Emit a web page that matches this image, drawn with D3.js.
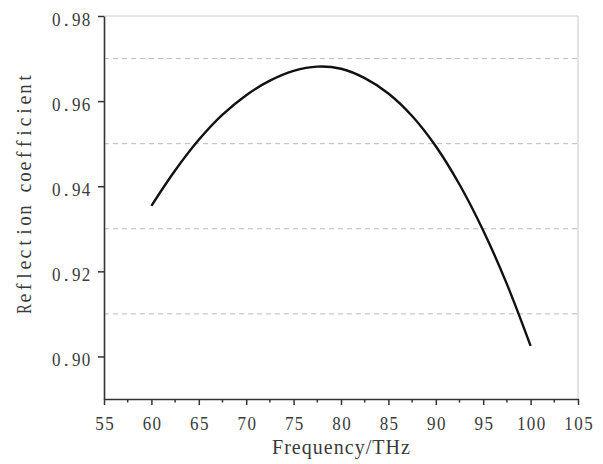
<!DOCTYPE html>
<html><head><meta charset="utf-8">
<script src="https://cdn.jsdelivr.net/npm/d3@7"></script>
<style>body{margin:0;background:#fff}</style>
</head><body>
<script>
const freq = [60, 62.5, 65, 67.5, 70, 72.5, 75, 77.5, 80, 82.5, 85, 87.5, 90, 92.5, 95, 97.5, 100];
const refl = [0.9354, 0.9437, 0.9509, 0.9568, 0.9614, 0.9648, 0.9671, 0.9681, 0.9676, 0.9654, 0.9618, 0.9565, 0.9494, 0.9404, 0.9296, 0.9170, 0.9025];
const xTicks = [55, 60, 65, 70, 75, 80, 85, 90, 95, 100, 105];
const xMinor = [57.5, 62.5, 67.5, 72.5, 77.5, 82.5, 87.5, 92.5, 97.5, 102.5];
const yTicks = [0.90, 0.92, 0.94, 0.96, 0.98];
const yGrid = [0.91, 0.93, 0.95, 0.97];
const xTitle = "Frequency/THz";
const yTitle = "Reflection coefficient";

const W = 603, H = 464;
const m = {l: 104, r: 25, t: 16, b: 65};
const svg = d3.select("body").append("svg").attr("width", W).attr("height", H);
const x = d3.scaleLinear().domain([55, 105]).range([m.l, W - m.r]);
const y = d3.scaleLinear().domain([0.89, 0.98]).range([H - m.b, m.t]);
const font = "'Liberation Serif', 'DejaVu Serif', serif";
const txtCol = "#3a3a3a";

// fixed-cell text (half-width CJK-style font look); wide glyphs condensed to fit their cell
function monoText(sel, str, cx, cy, cell, size, align) {
  const n = str.length, wTot = n * cell;
  const start = align === "end" ? cx - wTot : align === "start" ? cx : cx - wTot / 2;
  const t = sel.append("text").attr("font-family", font).attr("font-size", size)
    .attr("fill", txtCol).attr("text-anchor", "middle").attr("dominant-baseline", "central");
  t.selectAll("tspan").data(str.split("")).join("tspan")
    .attr("x", (c, i) => start + (i + 0.5) * cell).attr("y", cy)
    .text(c => c === " " ? "\u00a0" : c)
    .each(function() {
      const w = this.getComputedTextLength();
      const maxW = cell * 0.86;
      if (w > maxW) d3.select(this).attr("textLength", maxW).attr("lengthAdjust", "spacingAndGlyphs");
    });
  return t;
}

// grid
svg.append("g").selectAll("line").data(yGrid).join("line")
  .attr("x1", x(55)).attr("x2", x(105))
  .attr("y1", d => y(d)).attr("y2", d => y(d))
  .attr("stroke", "#bbb").attr("stroke-width", 1).attr("stroke-dasharray", "5,4");

// frame top/right
svg.append("path")
  .attr("d", `M${x(55)},${y(0.98)}H${x(105)}V${y(0.89)}`)
  .attr("fill", "none").attr("stroke", "#c8c8c8").attr("stroke-width", 1);

// axes
const xAxis = svg.append("g").attr("transform", `translate(0,${y(0.89)})`)
  .call(d3.axisBottom(x).tickValues(xTicks).tickSize(6).tickSizeOuter(0).tickFormat(d3.format("d")));
xAxis.append("g").selectAll("line").data(xMinor).join("line")
  .attr("x1", d => x(d)).attr("x2", d => x(d)).attr("y1", 0).attr("y2", 3.5)
  .attr("stroke", "#333").attr("stroke-width", 1.5);
const yAxis = svg.append("g").attr("transform", `translate(${x(55)},0)`)
  .call(d3.axisLeft(y).tickValues(yTicks).tickSize(6).tickSizeOuter(0).tickFormat(d3.format(".2f")));
[xAxis, yAxis].forEach(g => {
  g.select(".domain").attr("stroke", "#333").attr("stroke-width", 1.6);
  g.selectAll(".tick line").attr("stroke", "#333").attr("stroke-width", 1.5);
});
xAxis.selectAll(".tick").each(function(d) {
  const g = d3.select(this); const s = g.select("text").text(); g.select("text").remove();
  monoText(g, s, 0, 24, 9.9, 19.5, "middle");
});
yAxis.selectAll(".tick").each(function(d) {
  const g = d3.select(this); const s = g.select("text").text(); g.select("text").remove();
  monoText(g, s, -13, 2, 9.9, 19.5, "end");
});

// curve
const line = d3.line().x((d, i) => x(freq[i])).y(d => y(d)).curve(d3.curveCatmullRom.alpha(0.5));
svg.append("path").datum(refl).attr("d", line)
  .attr("fill", "none").attr("stroke", "#111").attr("stroke-width", 2.4);

// titles
svg.append("text").attr("x", (x(55) + x(105)) / 2).attr("y", 447)
  .attr("font-family", font).attr("font-size", 20).attr("fill", txtCol)
  .attr("text-anchor", "middle").attr("dominant-baseline", "central")
  .attr("textLength", 138).attr("lengthAdjust", "spacing")
  .text(xTitle);
const yt = svg.append("g").attr("transform", `translate(24,${(y(0.89) + y(0.98)) / 2 - 14}) rotate(-90)`);
monoText(yt, yTitle, 0, 0, 11, 20, "middle");
</script>
</body></html>
